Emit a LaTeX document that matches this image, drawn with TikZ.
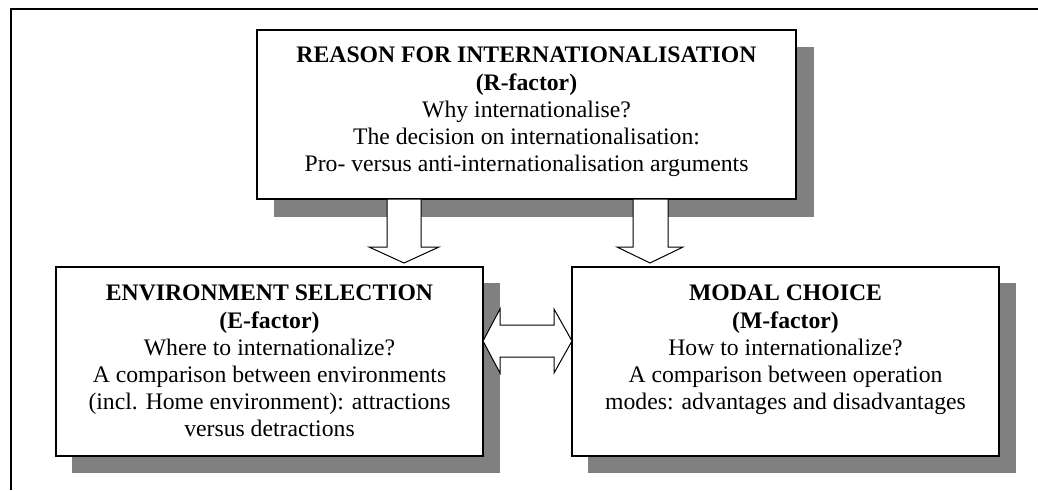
\documentclass[tikz,border=0pt]{standalone}
\usepackage{fontspec}
\setmainfont{Liberation Serif}
\begin{document}
\begin{tikzpicture}[x=1pt,y=-1pt,
  frameline/.style={line width=1.6pt},
  shadowbox/.style={fill=black!50, draw=none},
  boxframe/.style={fill=white, draw=black, line width=1.5pt},
  blockarrow/.style={fill=white, draw=black, line width=1pt, line join=miter},
  boxtext/.style={anchor=north, inner sep=0pt, align=center, font=\fontsize{23.7}{27.2}\selectfont}]
\useasboundingbox (0,0) rectangle (1038,490);
% outer frame (left and top edges)
\draw[frameline] (11,490) -- (11,9) -- (1038,9);
% shadows
\fill[shadowbox] (274,47) rectangle (814,217);
\fill[shadowbox] (72,283) rectangle (500,473);
\fill[shadowbox] (588,283) rectangle (1016,473);
% boxes
\draw[boxframe] (257,30) rectangle (796,199);
\draw[boxframe] (56,267) rectangle (483,456);
\draw[boxframe] (572,267) rectangle (999,456);
\node[boxtext] (rtext) at (526.5,47) {\textbf{REASON FOR INTERNATIONALISATION}\\ \textbf{(R-factor)}\\ Why internationalise?\\ The decision on internationalisation:\\ Pro- versus anti-internationalisation arguments};
\node[boxtext] (etext) at (269.5,285) {\textbf{ENVIRONMENT SELECTION}\\ \textbf{(E-factor)}\\ Where to internationalize?\\ A comparison between environments\\ (incl. Home environment): attractions\\ versus detractions};
\node[boxtext] (mtext) at (785.5,285) {\textbf{MODAL CHOICE}\\ \textbf{(M-factor)}\\ How to internationalize?\\ A comparison between operation\\ modes: advantages and disadvantages};
% block arrows
\draw[blockarrow] (387,199) -- (387,247) -- (369,247) -- (404,263) -- (439,247) -- (421,247) -- (421,199) -- cycle;
\draw[blockarrow] (633,199) -- (633,247) -- (617,247) -- (650,263) -- (683,247) -- (668,247) -- (668,199) -- cycle;
\draw[blockarrow] (483,341) -- (500,309) -- (500,325) -- (554,325) -- (554,309) -- (572,341) -- (554,373) -- (554,357) -- (500,357) -- (500,373) -- cycle;
\end{tikzpicture}
\end{document}
